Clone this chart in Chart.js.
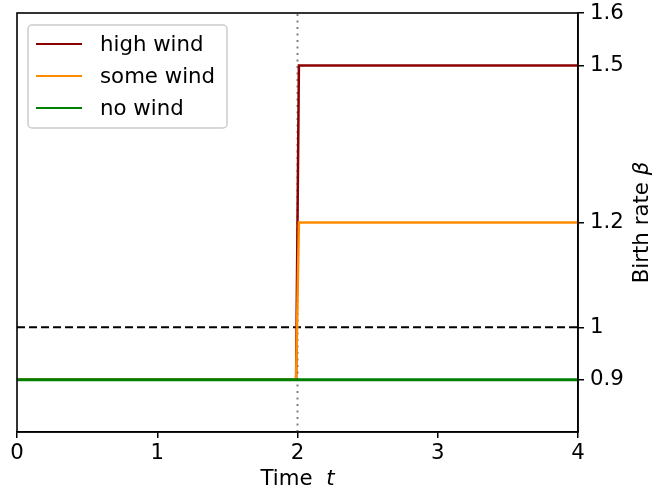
<!DOCTYPE html>
<html>
<head>
<meta charset="utf-8">
<script src="https://cdn.jsdelivr.net/npm/chart.js@4/dist/chart.umd.min.js"></script>
<style>
  body { margin: 0; background: #fff; }
  #wrap { width: 666px; height: 492px; }
</style>
</head>
<body>
<div id="wrap"><canvas id="betaChart"></canvas></div>
<script>
// data
const timePoints = [0, 1.99, 2.01, 4];
const highWind = [0.9, 0.9, 1.5, 1.5];
const someWind = [0.9, 0.9, 1.2, 1.2];
const noWind = [0.9, 0.9, 0.9, 0.9];
const seriesLabels = ['high wind', 'some wind', 'no wind'];
const xTicks = [0, 1, 2, 3, 4];
const yTicks = [0.9, 1, 1.2, 1.5, 1.6];
const yRange = [0.8, 1.6];
const xRange = [0, 4];
const criticalBeta = 1;
const switchTime = 2;

const FONT = 'DejaVu Sans';
const fontSize = 21.3;

function toPoints(xs, ys) {
    return xs.map((x, i) => ({ x: x, y: ys[i] }));
}

// frame, axis titles, legend box
const extrasPlugin = {
    id: 'extras',
    afterDraw(chart) {
        const ctx = chart.ctx;
        const a = chart.chartArea;
        ctx.save();

        // spines
        ctx.strokeStyle = '#000';
        ctx.lineWidth = 1.6;
        ctx.strokeRect(a.left, a.top, a.right - a.left, a.bottom - a.top);

        // x title "Time  t"
        ctx.fillStyle = '#000';
        ctx.textBaseline = 'middle';
        const normal = fontSize + 'px "' + FONT + '"';
        const italic = 'italic ' + fontSize + 'px "' + FONT + '"';
        ctx.font = normal;
        const w1 = ctx.measureText('Time  ').width;
        ctx.font = italic;
        const w2 = ctx.measureText('t').width;
        let x0 = (a.left + a.right) / 2 - (w1 + w2) / 2;
        ctx.textAlign = 'left';
        ctx.font = normal;
        ctx.fillText('Time  ', x0, 479);
        ctx.font = italic;
        ctx.fillText('t', x0 + w1, 479);

        // y title "Birth rate β", rotated
        ctx.translate(642, (a.top + a.bottom) / 2);
        ctx.rotate(-Math.PI / 2);
        ctx.font = normal;
        const w3 = ctx.measureText('Birth rate ').width;
        ctx.font = italic;
        const w4 = ctx.measureText('β').width;
        x0 = -(w3 + w4) / 2;
        ctx.font = normal;
        ctx.fillText('Birth rate ', x0, 0);
        ctx.font = italic;
        ctx.fillText('β', x0 + w3, 0);
        ctx.restore();

        // legend
        ctx.save();
        const bx = a.left + 11, by = a.top + 12, bw = 199, bh = 103;
        ctx.beginPath();
        ctx.roundRect(bx, by, bw, bh, 4);
        ctx.fillStyle = 'rgba(255,255,255,0.8)';
        ctx.fill();
        ctx.strokeStyle = '#cccccc';
        ctx.lineWidth = 1.5;
        ctx.stroke();
        ctx.font = normal;
        ctx.textBaseline = 'middle';
        ctx.textAlign = 'left';
        const items = chart.data.datasets.filter(d => d.inLegend);
        items.sort((p, q) => seriesLabels.indexOf(p.label) - seriesLabels.indexOf(q.label));
        items.forEach((d, i) => {
            const yy = by + 19 + i * 32;
            ctx.strokeStyle = d.borderColor;
            ctx.lineWidth = 2.2;
            ctx.beginPath();
            ctx.moveTo(bx + 8, yy);
            ctx.lineTo(bx + 54, yy);
            ctx.stroke();
            ctx.fillStyle = '#000';
            ctx.fillText(d.label, bx + 72, yy + 1);
        });
        ctx.restore();
    }
};

const axisCommon = {
    type: 'linear',
    grid: { drawOnChartArea: false, drawTicks: true, tickLength: 6, color: '#000', lineWidth: 1.5 },
    border: { display: true, color: '#000', width: 1.6 },
    ticks: { color: '#000', font: { family: FONT, size: fontSize }, callback: v => String(v) }
};

new Chart(document.getElementById('betaChart'), {
    type: 'line',
    data: {
        datasets: [
            {
                label: 'critical',
                data: toPoints(xRange, [criticalBeta, criticalBeta]),
                borderColor: '#000',
                borderWidth: 1.8,
                borderDash: [8, 4],
                order: 5
            },
            {
                label: 'switch',
                data: toPoints([switchTime, switchTime], yRange),
                borderColor: '#808080',
                borderWidth: 2,
                borderDash: [2, 4.5],
                order: 4
            },
            {
                label: seriesLabels[0],
                inLegend: true,
                data: toPoints(timePoints, highWind),
                borderColor: '#8b0000',
                borderWidth: 2.5,
                order: 3
            },
            {
                label: seriesLabels[1],
                inLegend: true,
                data: toPoints(timePoints, someWind),
                borderColor: '#ff8c00',
                borderWidth: 2.5,
                order: 2
            },
            {
                label: seriesLabels[2],
                inLegend: true,
                data: toPoints(timePoints, noWind),
                borderColor: '#008000',
                borderWidth: 3,
                order: 1
            }
        ]
    },
    options: {
        responsive: true,
        maintainAspectRatio: false,
        devicePixelRatio: 1,
        animation: false,
        elements: { point: { radius: 0 }, line: { tension: 0 } },
        layout: { padding: { left: 17, top: 13, right: 0, bottom: 0 } },
        plugins: { legend: { display: false }, tooltip: { enabled: false } },
        scales: {
            x: Object.assign({}, axisCommon, {
                min: xRange[0], max: xRange[1],
                ticks: Object.assign({}, axisCommon.ticks, { padding: 3, maxRotation: 0 }),
                afterBuildTicks: s => { s.ticks = xTicks.map(v => ({ value: v })); },
                afterFit: s => { s.height = 60; s.paddingLeft = 0; s.paddingRight = 0; }
            }),
            y: Object.assign({}, axisCommon, {
                position: 'right',
                min: yRange[0], max: yRange[1],
                ticks: Object.assign({}, axisCommon.ticks, { padding: 6 }),
                afterBuildTicks: s => { s.ticks = yTicks.map(v => ({ value: v })); },
                afterFit: s => { s.width = 88; s.paddingTop = 0; s.paddingBottom = 0; }
            })
        }
    },
    plugins: [extrasPlugin]
});
</script>
</body>
</html>
